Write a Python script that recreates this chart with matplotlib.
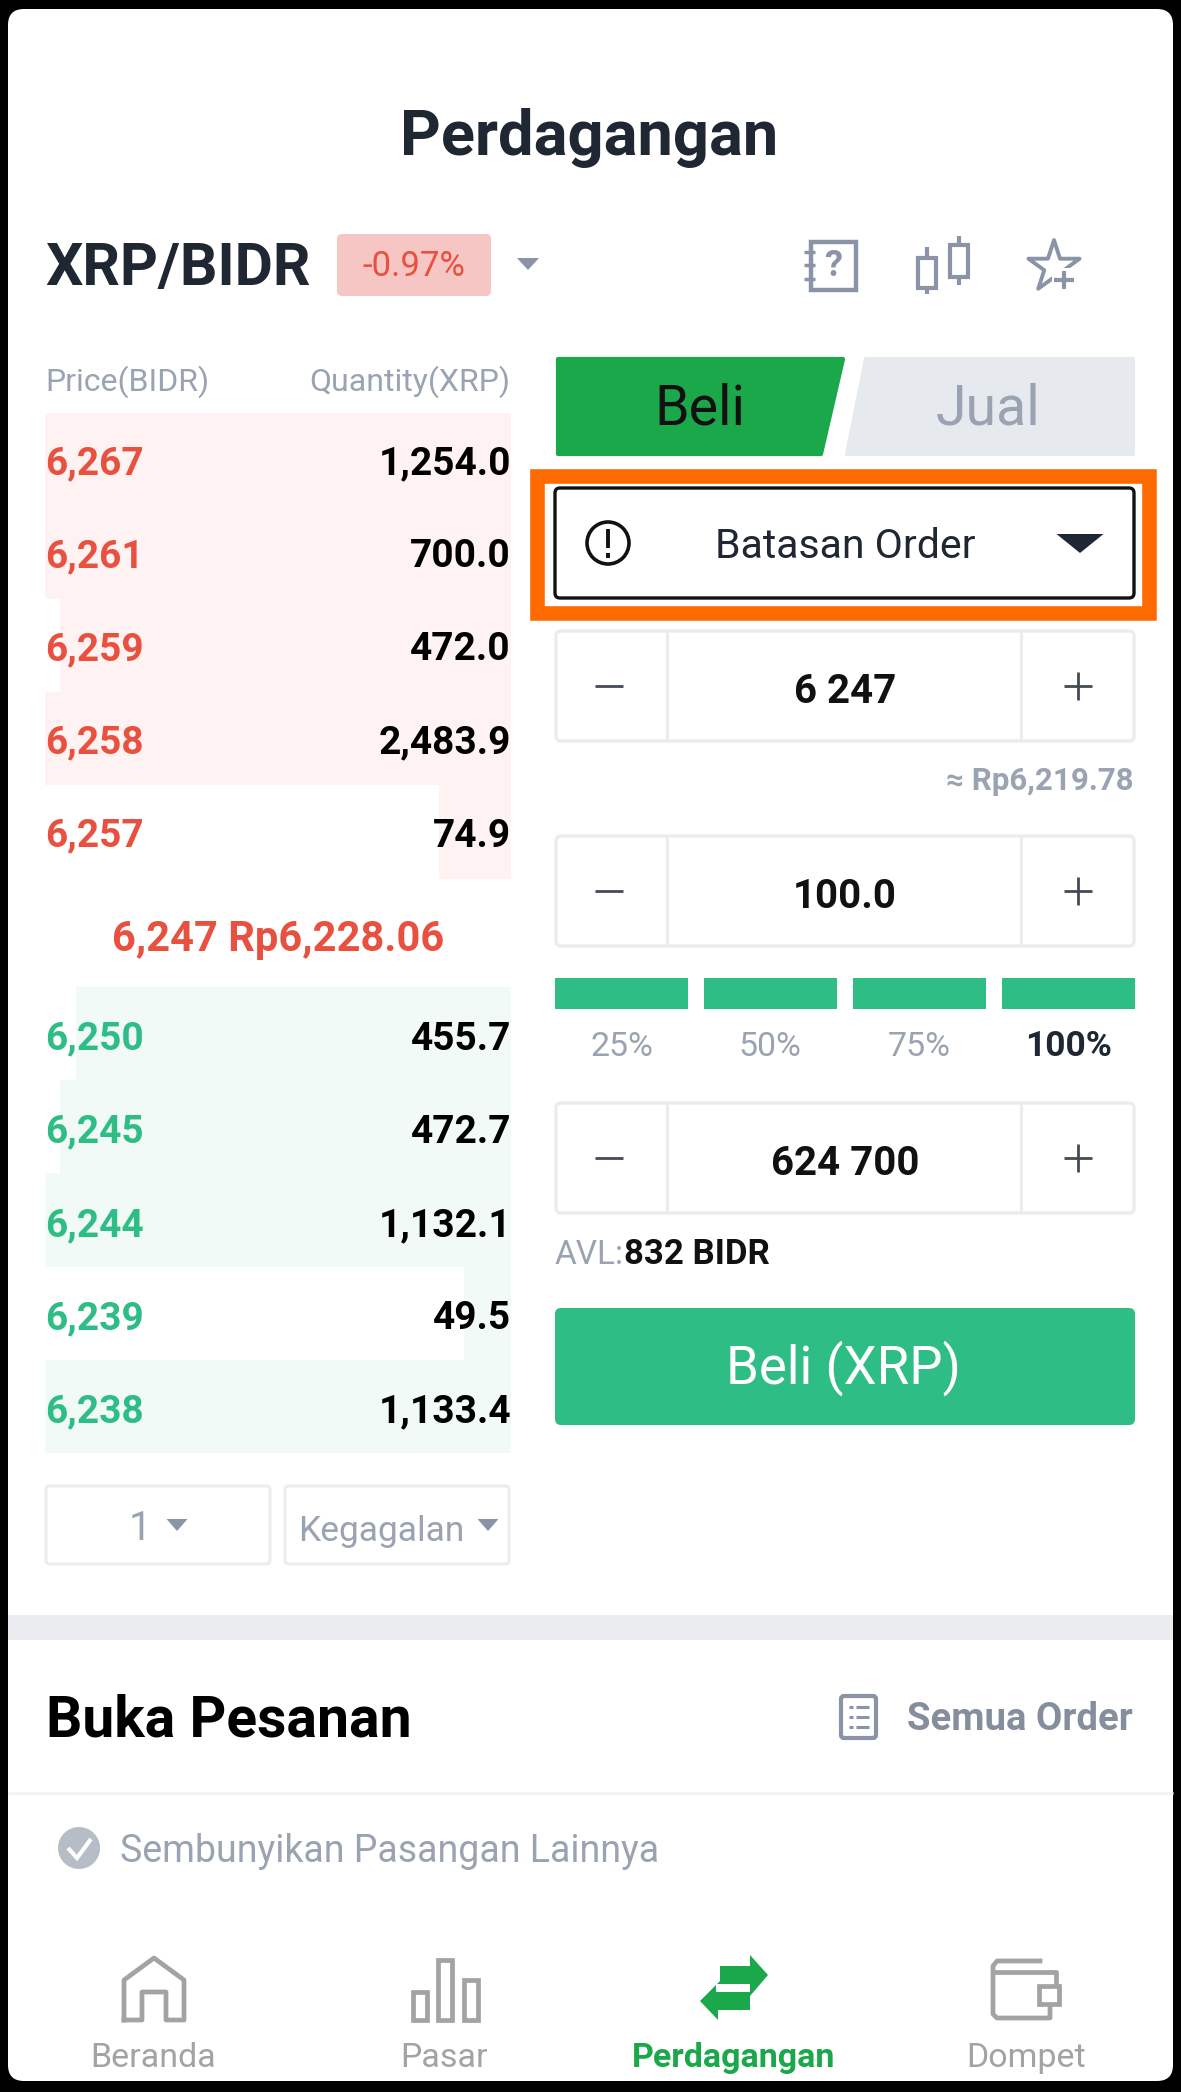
import matplotlib
matplotlib.use('Agg')
import matplotlib.pyplot as plt
from matplotlib.patches import FancyBboxPatch, Polygon, Circle, Rectangle

matplotlib.rcParams['font.family'] = ['Roboto', 'DejaVu Sans']

# order book
ask_prices = ['6,267', '6,261', '6,259', '6,258', '6,257']
ask_qty = ['1,254.0', '700.0', '472.0', '2,483.9', '74.9']
ask_depth = [1.0, 1.0, 0.968, 1.0, 0.155]
bid_prices = ['6,250', '6,245', '6,244', '6,239', '6,238']
bid_qty = ['455.7', '472.7', '1,132.1', '49.5', '1,133.4']
bid_depth = [0.934, 0.968, 1.0, 0.10, 1.0]

# order form
input_values = ['6 247', '100.0', '624 700']
pct_labels = ['25%', '50%', '75%', '100%']
pct_fill = [1, 1, 1, 1]
nav_labels = ['Beranda', 'Pasar', 'Perdagangan', 'Dompet']

RED = '#e8503f'
GREEN = '#2ebd85'
DGREEN = '#1ba84b'
DARK = '#1e2732'
GRAY = '#9aa3b2'
ICON = '#8a94a6'
LINE = '#eaecef'
NAV = '#a3a3a3'

fig = plt.figure(figsize=(11.81, 20.92), dpi=100, facecolor='black')
ax = fig.add_axes([0, 0, 1, 1])
ax.set_xlim(0, 1181)
ax.set_ylim(2092, 0)
ax.axis('off')


def txt(x, y, s, size, color=DARK, ha='center', weight='normal'):
    # everything sat about 3px high on the first pass
    ax.text(x, y + 3, s, fontsize=size, color=color, ha=ha, va='center', fontweight=weight)


def box(x0, y0, x1, y1, r=4, fc='white', ec='none', lw=0, z=2):
    ax.add_patch(FancyBboxPatch((x0, y0), x1 - x0, y1 - y0,
                                boxstyle='round,pad=0,rounding_size=%g' % r,
                                fc=fc, ec=ec, lw=lw, zorder=z))


def tri(cx, y0, y1, w, color=ICON):
    ax.add_patch(Polygon([(cx - w / 2, y0), (cx + w / 2, y0), (cx, y1)], fc=color, ec='none', zorder=3))


def line(xs, ys, color=ICON, lw=3, z=3):
    ax.plot(xs, ys, color=color, lw=lw, zorder=z, solid_capstyle='butt', solid_joinstyle='miter')


# card
box(8, 9, 1173, 2081, r=16, z=1)

# header
txt(589, 135, 'Perdagangan', 45.5, weight='bold')
txt(45, 266, 'XRP/BIDR', 42.4, ha='left', weight='bold')
box(337, 234, 491, 296, r=5, fc='#f6c6c4')
txt(414, 264, '-0.97%', 25, color=RED)
tri(528, 258, 270, 22)

# top right icons
ax.add_patch(Rectangle((811, 242), 45, 48, fc='none', ec=ICON, lw=3.2, zorder=3))
for yy in [252, 265, 279]:
    line([804, 815], [yy, yy], lw=2.5)
txt(833, 263, '?', 26, color=ICON, weight='bold')
ax.add_patch(Rectangle((918, 258), 18, 30, fc='none', ec=ICON, lw=3, zorder=3))
line([927, 927], [247, 258]); line([927, 927], [288, 294])
ax.add_patch(Rectangle((950, 245), 18, 32, fc='none', ec=ICON, lw=3, zorder=3))
line([959, 959], [236, 245]); line([959, 959], [277, 285])
ax.scatter([1054], [267], marker='*', s=1500, facecolors='none', edgecolors=ICON, linewidths=2.8, zorder=3)
ax.add_patch(Rectangle((1052, 268), 28, 26, fc='white', ec='none', zorder=4))
line([1054, 1074], [280, 280], lw=3, z=5)
line([1064, 1064], [271, 289], lw=3, z=5)

# order book
book_left = 45
book_right = 511
book_w = book_right - book_left
txt(book_left, 379, 'Price(BIDR)', 23, color=GRAY, ha='left')
txt(book_right - 1, 379, 'Quantity(XRP)', 23, color=GRAY, ha='right')

row_h = 93.2
ask_top = 412.5
bid_top = 987
for i in range(len(ask_prices)):
    y = ask_top + row_h * i
    ax.barh(y + row_h / 2, ask_depth[i] * book_w, height=row_h, left=book_right - ask_depth[i] * book_w,
            color='#fef3f2', zorder=1.5)
    txt(book_left, y + 48, ask_prices[i], 28, color=RED, ha='left', weight='bold')
    txt(book_right, y + 48, ask_qty[i], 28, color='black', ha='right', weight='bold')
for i in range(len(bid_prices)):
    y = bid_top + row_h * i
    ax.barh(y + row_h / 2, bid_depth[i] * book_w, height=row_h, left=book_right - bid_depth[i] * book_w,
            color='#f1faf7', zorder=1.5)
    txt(book_left, y + 49, bid_prices[i], 28, color=GREEN, ha='left', weight='bold')
    txt(book_right, y + 49, bid_qty[i], 28, color='black', ha='right', weight='bold')
txt(278, 936, '6,247 Rp6,228.06', 30, color=RED, weight='bold')

# dropdowns under the book
box(46, 1486, 270, 1564, r=4, fc='white', ec=LINE, lw=2.2)
box(285, 1486, 509, 1564, r=4, fc='white', ec=LINE, lw=2.2)
txt(140, 1525, '1', 29, color=GRAY)
tri(177, 1519, 1531, 21)
txt(298, 1528, 'Kegagalan', 25.5, color=GRAY, ha='left')
tri(488, 1519, 1531, 21)

# buy / sell tabs
ax.add_patch(Polygon([(558, 359), (843, 359), (821, 454), (558, 454)], fc=DGREEN, ec=DGREEN, lw=3, joinstyle='round', zorder=2))
ax.add_patch(Polygon([(866, 359), (1133, 359), (1133, 454), (847, 454)], fc='#e6e9ed', ec='#e6e9ed', lw=3, joinstyle='round', zorder=2))
txt(700, 406, 'Beli', 40, color='#111111')
txt(988, 406, 'Jual', 40, color=GRAY)

# highlighted order type selector
ax.add_patch(Rectangle((537, 476), 612, 137, fc='white', ec='#ff6a00', lw=10.5, zorder=2, joinstyle='miter'))
box(555, 488, 1134, 598, r=5, fc='white', ec='#111111', lw=2.4, z=3)
ax.add_patch(Circle((608, 543), 21, fc='none', ec='#111111', lw=2.6, zorder=4))
line([608, 608], [529, 548], color='#111111', lw=2.8, z=4)
line([608, 608], [553, 558], color='#111111', lw=2.8, z=4)
txt(845, 543, 'Batasan Order', 29.5)
tri(1080, 534, 553, 47, color=DARK)

# input boxes
box_tops = [631, 836, 1103]
box_h = 110
for top, val in zip(box_tops, input_values):
    box(556, top, 1134, top + box_h, r=5, fc='white', ec=LINE, lw=2.4)
    line([667, 667], [top, top + box_h], color=LINE, lw=2.2)
    line([1021, 1021], [top, top + box_h], color=LINE, lw=2.2)
    mid = top + box_h / 2
    line([595, 623], [mid, mid], color='#444b56', lw=2)
    line([1064, 1092], [mid, mid], color='#444b56', lw=2)
    line([1078, 1078], [mid - 14, mid + 14], color='#444b56', lw=2)
    txt(845, mid + 3, val, 29, color='#111111', weight='bold')
txt(1134, 778, '\u2248 Rp6,219.78', 22.5, color=GRAY, ha='right', weight='bold')

# percentage steps
pct_centers = [621.5, 770, 919, 1068]
for cx, label, f in zip(pct_centers, pct_labels, pct_fill):
    ax.barh(993.5, 133 * f, height=31, left=cx - 66.5, color=GREEN, zorder=2)
    if label == '100%':
        txt(cx, 1044, label, 25.5, color=DARK, weight='bold')
    else:
        txt(cx, 1044, label, 24.5, color=GRAY)

txt(555, 1252, 'AVL:', 24, color=GRAY, ha='left')
txt(624, 1252, '832 BIDR', 25, color='#111111', ha='left', weight='bold')

box(555, 1308, 1135, 1425, r=6, fc=GREEN)
txt(843, 1365, 'Beli (XRP)', 38, color='white')

# open orders section
ax.add_patch(Rectangle((8, 1615), 1165, 25, fc='#eaecef', ec='none', zorder=2))
txt(46, 1718, 'Buka Pesanan', 41, color='black', ha='left', weight='bold')
box(841, 1696, 876, 1738, r=3, fc='none', ec=ICON, lw=3)
for yy in [1707, 1717, 1727]:
    line([849, 853], [yy, yy], lw=2.2)
    line([856, 869], [yy, yy], lw=2.2)
txt(1133, 1717, 'Semua Order', 27.5, color='#848e9c', ha='right', weight='bold')
line([8, 1173], [1793, 1793], color='#f2f3f5', lw=2.2)

ax.add_patch(Circle((79, 1848), 21, fc='#b7bdc6', ec='none', zorder=3))
line([68, 77, 91], [1848, 1858, 1839], color='white', lw=3, z=4)
txt(120, 1849, 'Sembunyikan Pasangan Lainnya', 27, color=GRAY, ha='left')

# bottom nav
nav_x = [153, 444, 734, 1026]
for cx, label in zip(nav_x, nav_labels):
    txt(cx, 2055, label, 24.5, color=DGREEN if label == 'Perdagangan' else NAV,
        weight='bold' if label == 'Perdagangan' else 'normal')

# home icon
ax.plot([124, 124, 154, 184, 184, 166, 166, 142, 142, 124],
        [2020, 1980, 1958, 1980, 2020, 2020, 1992, 1992, 2020, 2020], color=NAV, lw=3.4, zorder=3)
# bars icon
for x0, y0 in [(413, 1992), (438, 1960), (464, 1980)]:
    ax.add_patch(Rectangle((x0, y0), 14, 2020 - y0, fc='none', ec=NAV, lw=3.4, zorder=3))
# swap arrows icon
ax.add_patch(Polygon([(720, 1966), (750, 1966), (750, 1955), (768, 1975), (750, 1996), (750, 1984), (720, 1984)],
                     fc=DGREEN, ec='none', zorder=3))
ax.add_patch(Polygon([(750, 1992), (720, 1992), (720, 1981), (700, 2001), (718, 2020), (718, 2010), (750, 2010)],
                     fc=DGREEN, ec='none', zorder=3))
ax.add_patch(Rectangle((716, 1984), 34, 8, fc='white', ec='none', zorder=4))
# wallet icon
ax.plot([1040, 997, 993, 993, 997, 1050, 1050], [1961, 1961, 1966, 2014, 2018, 2018, 2005], color=NAV, lw=3.4, zorder=3)
ax.plot([993, 1056, 1056], [1972, 1972, 1985], color=NAV, lw=3.4, zorder=3)
ax.add_patch(Rectangle((1039, 1986), 20, 18, fc='white', ec=NAV, lw=3.4, zorder=3))

plt.savefig('out.png', dpi=100, facecolor='black')
